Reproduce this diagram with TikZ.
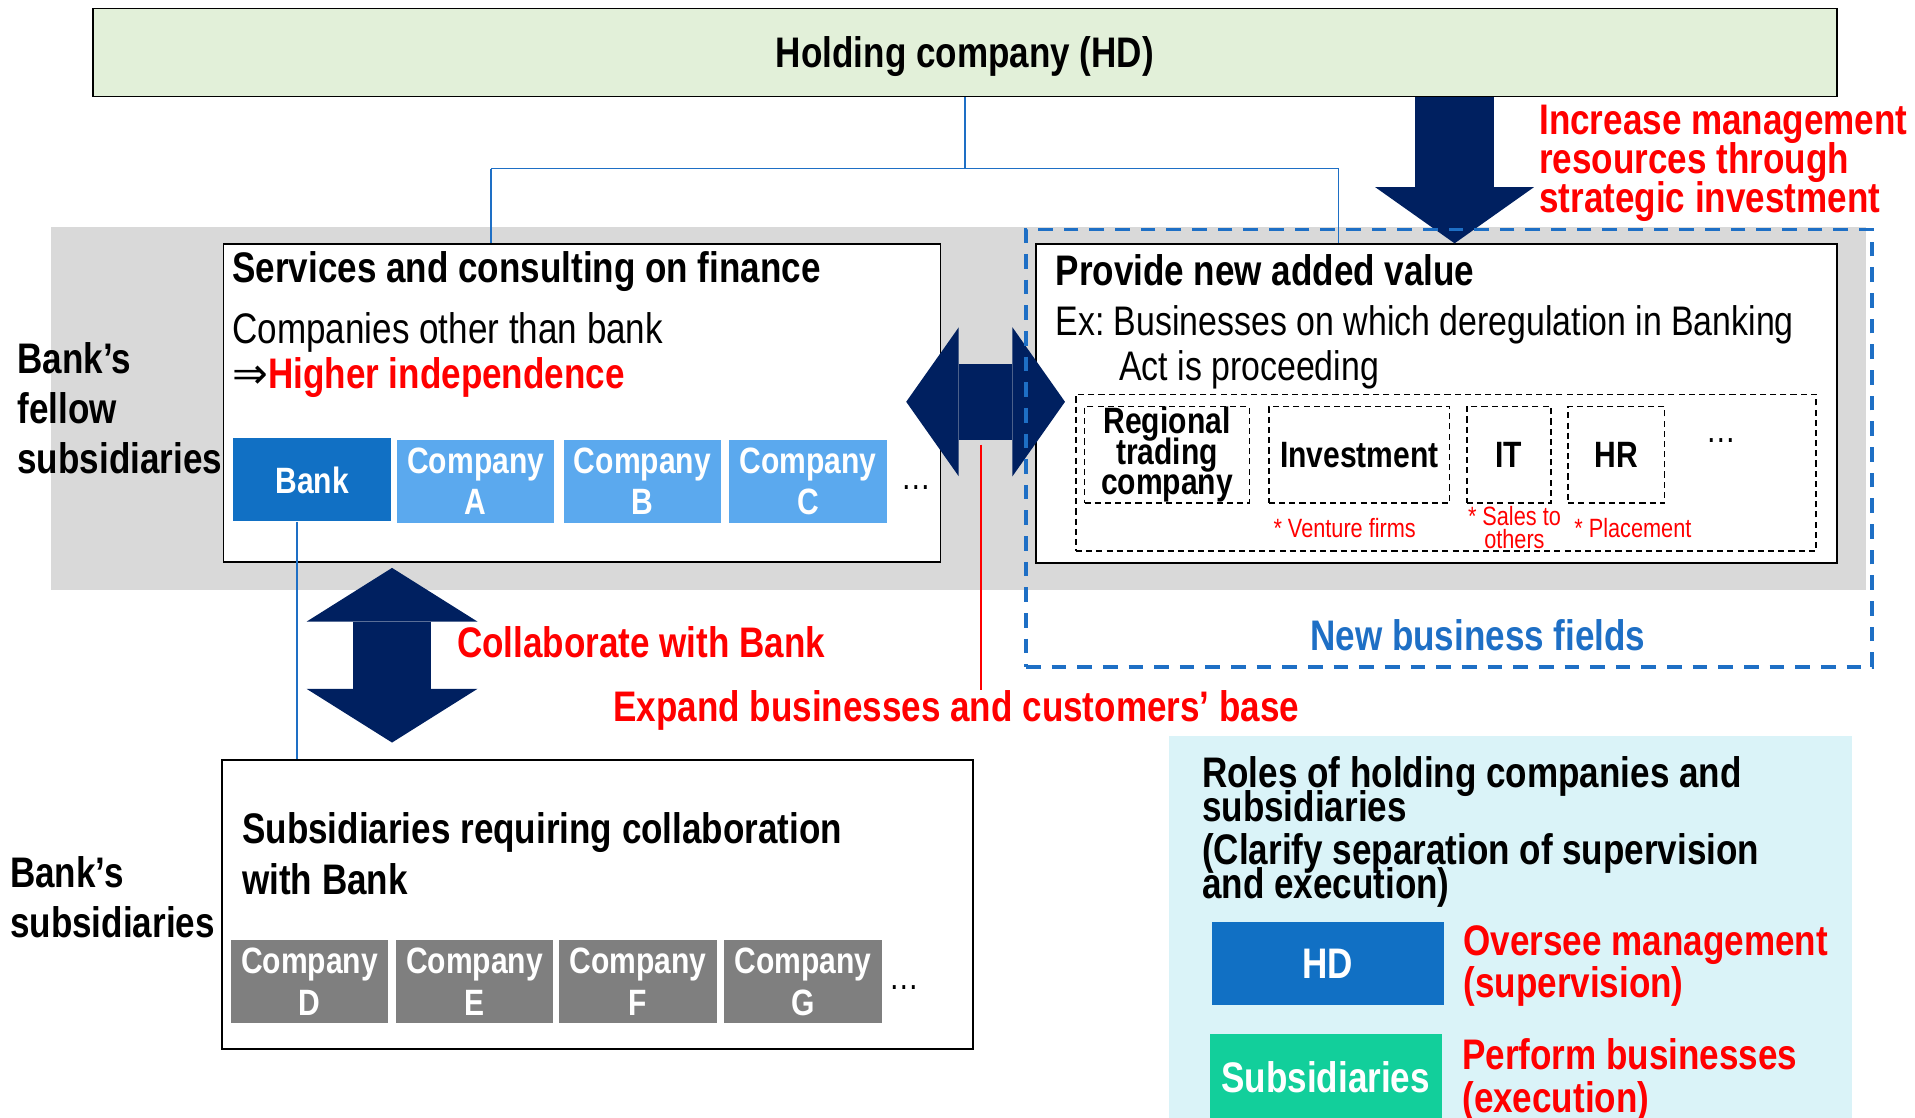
\documentclass[tikz,border=0pt]{standalone}
\usepackage{fontspec}
\setmainfont{Liberation Sans}[FakeStretch=0.82]
\newfontfamily\arrowfont{DejaVu Sans}
\usetikzlibrary{arrows.meta,fit,positioning}
\definecolor{arrownavy}{HTML}{002060}
\definecolor{linkblue}{HTML}{1E6FC5}
\definecolor{bankblue}{HTML}{1170C4}
\definecolor{coblue}{HTML}{5BA9EE}
\definecolor{cogray}{HTML}{7F7F7F}
\definecolor{bandgray}{HTML}{D9D9D9}
\definecolor{hdgreen}{HTML}{E2F0D9}
\definecolor{rolecyan}{HTML}{DAF3F8}
\definecolor{subteal}{HTML}{12CF9B}
\newcommand\fsbig{\fontsize{21pt}{24.6pt}\selectfont}
\newcommand\fsco{\fontsize{18pt}{20.4pt}\selectfont}
\newcommand\fsnote{\fontsize{13pt}{11pt}\selectfont}
\tikzset{
  frame/.style={draw=black, line width=0.9pt, fill=white, inner sep=0pt},
  cobox/.style={minimum width=77.4pt, minimum height=40.8pt, inner sep=0pt, align=center, text=white, font=\bfseries\fsco},
  subfield/.style={draw, dashed, line width=0.7pt, dash pattern=on 3pt off 2pt, inner sep=0pt, minimum height=47.4pt, align=center, font=\bfseries\fsco},
  rolebox/.style={inner sep=0pt, minimum width=114pt, minimum height=40.8pt, text=white, font=\bfseries\fsbig},
  lbl/.style={inner sep=0pt, anchor=west, align=left, font=\fsbig},
  note/.style={inner sep=0pt, text=red, font=\fsnote, align=center},
  link/.style={draw=linkblue, line width=0.9pt},
  bigarrow/.style={draw=arrownavy, line width=#1}
}

\begin{document}
\lineskiplimit=-50pt
\frenchspacing
\begin{tikzpicture}[x=0.6pt,y=-0.6pt]
  \useasboundingbox (0,0) rectangle (1568,915);
  % background band and main boxes
  \node[fill=bandgray, inner sep=0pt, fit={(42,186) (1528,483)}] (band) {};
  \node[frame, fill=hdgreen, minimum width=856.8pt, minimum height=43.2pt, text depth=0pt, font=\bfseries\fsbig] (hd) at (790,43) {Holding company (HD)};
  \node[frame, fit={(183,200) (770,460)}] (svc) {};
  \node[frame, fit={(848,200) (1504,461)}] (nv) {};
  \node[frame, fit={(182,622) (797,859)}] (subs) {};
  \node[fill=rolecyan, inner sep=0pt, fit={(957,603) (1516,920)}] (roles) {};

  % links from HD
  \coordinate (jL) at (402,138);
  \coordinate (jR) at (1096,138);
  \draw[link] (hd.south) -- (hd.south |- jL);
  \draw[link] (jL) -- (jR);
  \draw[link] (jL) -- (jL |- svc.north);
  \draw[link] (jR) -- (jR |- nv.north);

  % finance services
  \node[lbl, font=\bfseries\fsbig] (svct) at (190,222) {Services and consulting on finance};
  \node[lbl] (svco) at (190,272) {Companies other than bank};
  \node[lbl] (svci) at (190,309) {{\arrowfont ⇒}\textcolor{red}{\bfseries Higher independence}};
  \node[cobox, fill=bankblue, font=\bfseries\fsco] (bank) at (255.5,393) {Bank};
  \foreach \nm/\cx/\lt in {coa/389.5/A, cob/526/B, coc/661.5/C}
    \node[cobox, fill=coblue] (\nm) at (\cx,394) {Company\\\lt};
  \node[inner sep=0pt, font=\fsco] (svcdots) at (750,399) {…};

  % new added value
  \node[lbl, font=\bfseries\fsbig] (nvt) at (864,221) {Provide new added value};
  \node[lbl, font=\fontsize{20.3pt}{24pt}\selectfont] (nvex) at (864,266) {Ex: Businesses on which deregulation in Banking};
  \node[lbl, font=\fontsize{20.3pt}{24pt}\selectfont] (nvact) at (916,303) {Act is proceeding};
  \node[subfield, fit={(881,323) (1487,451)}] (fields) {};
  \node[subfield, minimum width=81pt, font=\bfseries\fontsize{18pt}{15pt}\selectfont] (rtc) at (955.5,372.5) {Regional\\trading\\company};
  \node[subfield, minimum width=88.8pt] (inv) at (1113,372.5) {Investment};
  \node[subfield, minimum width=41.4pt] (it) at (1235.5,372.5) {IT};
  \node[subfield, minimum width=47.4pt] (hr) at (1323.5,372.5) {HR};
  \node[inner sep=0pt, font=\fsco] (nvdots) at (1409,361) {…};
  \node[note] (venture) at (1101,432) {* Venture firms};
  \node[note] (sales) at (1240,432) {* Sales to\\others};
  \node[note] (place) at (1337,432) {* Placement};

  % left labels
  \node[lbl, font=\bfseries\fsbig] (fellow) at (14,334) {Bank’s\\fellow\\subsidiaries};
  \node[lbl, font=\bfseries\fsbig] (banksub) at (8,735) {Bank’s\\subsidiaries};

  % bank subsidiaries
  \node[lbl, font=\bfseries\fontsize{21pt}{25.2pt}\selectfont] (subst) at (198,699) {Subsidiaries requiring collaboration\\with Bank};
  \foreach \nm/\cx/\lt in {cod/253.5/D, coe/388.5/E, cof/522.5/F, cog/657.5/G}
    \node[cobox, fill=cogray] (\nm) at (\cx,804) {Company\\\lt};
  \node[inner sep=0pt, font=\fsco] (subsdots) at (740,809) {…};
  \draw[link] ([xshift=-7.2pt]bank.south) coordinate (bl) -- (bl |- subs.north);

  % big arrows
  \coordinate (dn) at (1191,0);
  \draw[bigarrow=38.7pt, -{Triangle[length=27.6pt, width=78pt, line width=0pt]}] (hd.south -| dn) -- (nv.north -| dn);
  \coordinate (hl) at (742,329);
  \coordinate (hr) at (872,329);
  \draw[bigarrow=37.2pt, {Triangle[length=25.8pt, width=73.2pt, line width=0pt]}-{Triangle[length=25.8pt, width=73.2pt, line width=0pt]}] (hl) -- (hr);
  \coordinate (vt) at (321,465);
  \coordinate (vb) at (321,608);
  \draw[bigarrow=38.4pt, {Triangle[length=26.4pt, width=84pt, line width=0pt]}-{Triangle[length=26.4pt, width=84pt, line width=0pt]}] (vt) -- (vb);

  % new business fields frame
  \node[draw=linkblue, line width=1.8pt, dash pattern=on 7.2pt off 5.4pt, inner sep=0pt, fit={(840,188) (1533,546)}] (nbf) {};
  \node[inner sep=0pt, text=linkblue, font=\bfseries\fsbig] (nbft) at (1210,520) {New business fields};

  % red messages
  \node[lbl, text=red, font=\bfseries\fontsize{21pt}{19.2pt}\selectfont] (incr) at (1260,134) {Increase management\\resources through\\strategic investment};
  \node[lbl, text=red, font=\bfseries\fsbig] (collab) at (374,526) {Collaborate with Bank};
  \node[lbl, text=red, font=\bfseries\fsbig] (expand) at (502,582) {Expand businesses and customers’ base};
  \coordinate (rt) at (803,364);
  \draw[red, line width=0.9pt] (rt) -- (rt |- expand.north);

  % roles
  \node[lbl, font=\bfseries\fontsize{21pt}{16.8pt}\selectfont] (rolest) at (984,681) {Roles of holding companies and\\subsidiaries\\[4.2pt](Clarify separation of supervision\\and execution)};
  \node[rolebox, fill=bankblue] (hdrole) at (1087,789) {HD};
  \node[lbl, text=red, font=\bfseries\fontsize{21pt}{21pt}\selectfont] (oversee) at (1198,791) {Oversee management\\(supervision)};
  \node[rolebox, fill=subteal, minimum height=42pt] (subrole) at (1085.5,882) {Subsidiaries};
  \node[lbl, text=red, font=\bfseries\fontsize{21pt}{21pt}\selectfont] (perform) at (1197,884) {Perform businesses\\(execution)};
\end{tikzpicture}
\end{document}
